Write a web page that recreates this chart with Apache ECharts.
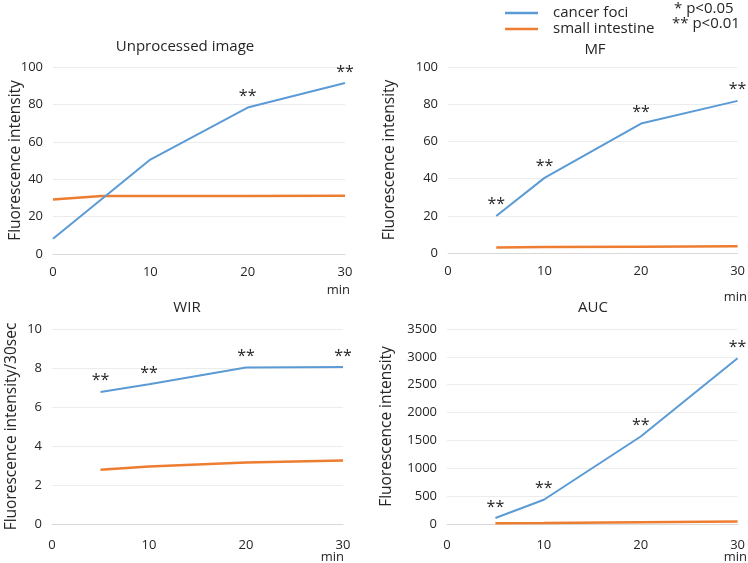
<!DOCTYPE html>
<html>
<head>
<meta charset="utf-8">
<script src="https://cdn.jsdelivr.net/npm/echarts@6/dist/echarts.min.js"></script>
<style>
  html, body { margin: 0; padding: 0; background: #fff; }
  #chart { width: 748px; height: 563px; }
</style>
</head>
<body>
<div id="chart"></div>
<script>
// data
const times = [5, 10, 20, 30]
const unprocCancerTimes = [0, 10, 20, 30]
const unprocCancer = [8.2, 50.5, 78.3, 91.4]
const unprocSig = ['', '', '**', '**']
const unprocIntestineTimes = [0, 5, 10, 20, 30]
const unprocIntestine = [29.2, 31.0, 31.0, 31.0, 31.2]

const mfCancer = [19.9, 40.4, 69.6, 81.8]
const mfIntestine = [3.0, 3.2, 3.4, 3.6]
const mfSig = ['**', '**', '**', '**']

const wirCancer = [6.77, 7.17, 8.02, 8.05]
const wirIntestine = [2.78, 2.95, 3.15, 3.26]
const wirSig = ['**', '**', '**', '**']

const aucCancer = [107, 435, 1570, 2975]
const aucIntestine = [15, 20, 32, 47]
const aucSig = ['**', '**', '**', '**']

const titles = ['Unprocessed image', 'MF', 'WIR', 'AUC']
const yNames = ['Fluorescence intensity', 'Fluorescence intensity', 'Fluorescence intensity/30sec', 'Fluorescence intensity']
const yMax = [100, 100, 10, 3500]
const yStep = [20, 20, 2, 500]

const FONT = '"Open Sans", "Noto Sans", sans-serif'
const TXT = '#262626'
const BLUE = '#5B9BD5'
const ORANGE = '#ED7D31'

const pairs = (xs, ys) => xs.map((x, i) => [x, ys[i]])

const grids = [
    { left: 53, right: 403, top: 67, bottom: 309 },
    { left: 448, right: 9, top: 67, bottom: 310 },
    { left: 52, right: 405, top: 329, bottom: 39 },
    { left: 447, right: 9, top: 329, bottom: 39 }
]
const nameGaps = [29, 50, 32, 52]
const labelMargins = [12, 12, 15, 15]

const xAxes = grids.map((g, i) => ({
    type: 'value', gridIndex: i, min: 0, max: 30, interval: 10,
    axisLine: { show: true, lineStyle: { color: '#D9D9D9' } },
    axisTick: { show: false },
    splitLine: { show: false },
    axisLabel: { color: TXT, fontFamily: FONT, fontSize: 13, margin: labelMargins[i] }
}))

const yAxes = grids.map((g, i) => ({
    type: 'value', gridIndex: i, min: 0, max: yMax[i], interval: yStep[i],
    name: yNames[i], nameLocation: 'middle', nameRotate: 90, nameGap: nameGaps[i],
    nameMoveOverlap: false,
    nameTextStyle: { color: TXT, fontFamily: FONT, fontSize: 15.5 },
    axisLine: { show: false },
    axisTick: { show: false },
    splitLine: { lineStyle: { color: '#ECECEC' } },
    axisLabel: { color: TXT, fontFamily: FONT, fontSize: 13, margin: 10, formatter: v => String(v) }
}))

const cancerSeries = (idx, data, sig) => ({
    name: 'cancer foci', type: 'line', xAxisIndex: idx, yAxisIndex: idx,
    data,
    symbol: 'circle', symbolSize: 0.1, showSymbol: true,
    lineStyle: { color: BLUE, width: 2 },
    itemStyle: { color: BLUE },
    label: {
        show: true, position: 'top', distance: 3,
        color: TXT, fontFamily: FONT, fontSize: 16,
        formatter: p => sig[p.dataIndex]
    },
    emphasis: { disabled: true },
    z: 3
})

const intestineSeries = (idx, data) => ({
    name: 'small intestine', type: 'line', xAxisIndex: idx, yAxisIndex: idx,
    data, showSymbol: false,
    lineStyle: { color: ORANGE, width: 2.5 },
    itemStyle: { color: ORANGE },
    emphasis: { disabled: true },
    z: 2
})

const series = [
    cancerSeries(0, pairs(unprocCancerTimes, unprocCancer), unprocSig),
    intestineSeries(0, pairs(unprocIntestineTimes, unprocIntestine)),
    cancerSeries(1, pairs(times, mfCancer), mfSig),
    intestineSeries(1, pairs(times, mfIntestine)),
    cancerSeries(2, pairs(times, wirCancer), wirSig),
    intestineSeries(2, pairs(times, wirIntestine)),
    cancerSeries(3, pairs(times, aucCancer), aucSig),
    intestineSeries(3, pairs(times, aucIntestine))
]

// panel titles, "min" units and the p-value key
const titlePos = [[185, 47], [595, 50], [187, 308], [593, 308]]
const minPos = [[350, 290, 'right'], [747, 297, 'right'], [344, 557, 'right'], [747, 557, 'right']]
const textEl = (x, y, text, size, align) => ({
    type: 'text', x, y,
    style: { text, fill: TXT, font: size + 'px ' + FONT, align: align || 'center', verticalAlign: 'middle' }
})
const graphic = [
    ...titles.map((t, i) => textEl(titlePos[i][0], titlePos[i][1], t, 15)),
    ...minPos.map(p => textEl(p[0], p[1], 'min', 13, p[2])),
    textEl(674, 9, '* p<0.05', 15, 'left'),
    textEl(672, 24, '** p<0.01', 15, 'left')
]

const chart = echarts.init(document.getElementById('chart'))
chart.setOption({
    animation: false,
    grid: grids,
    xAxis: xAxes,
    yAxis: yAxes,
    legend: {
        data: ['cancer foci', 'small intestine'],
        orient: 'vertical', left: 500, top: 0,
        icon: 'rect', itemWidth: 33, itemHeight: 2.5, itemGap: 0,
        textStyle: { color: TXT, fontFamily: FONT, fontSize: 15, lineHeight: 16, padding: [0, 0, 0, 10] }
    },
    graphic,
    series
})
</script>
</body>
</html>
